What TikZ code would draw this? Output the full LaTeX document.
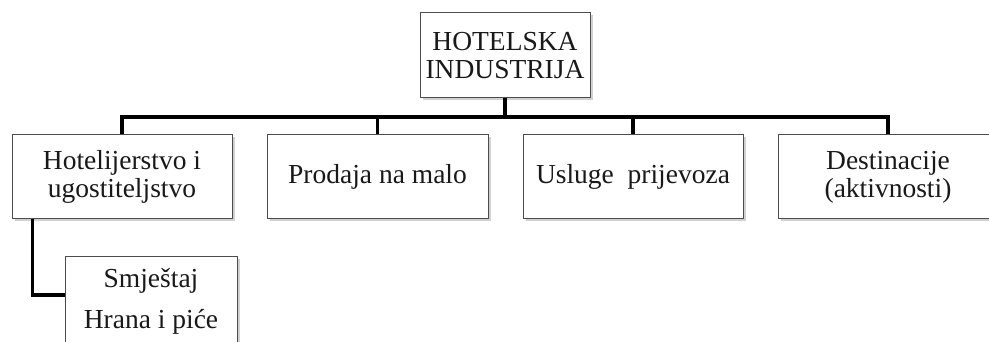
\documentclass[tikz,border=0pt]{standalone}
\usepackage{fontspec}
\setmainfont{Liberation Serif}
\usetikzlibrary{shadows}
\tikzset{
  box/.style={draw=black!70, line width=1pt, fill=white, align=center, inner sep=0pt,
    font=\fontsize{27.5}{28}\selectfont, text=black!90,
    drop shadow={shadow xshift=2.5pt, shadow yshift=-2.5pt, opacity=0.3, fill=black!60}},
  conn/.style={line width=3.6pt, black}
}
\begin{document}
\begin{tikzpicture}[x=1pt,y=-1pt]
\useasboundingbox (0,0) rectangle (989,342);
\node[box, minimum width=170pt, minimum height=85pt] (top) at (505,55.5) {HOTELSKA\\INDUSTRIJA};
\node[box, minimum width=220pt, minimum height=84pt] (h1) at (122,177) {Hotelijerstvo i\\ugostiteljstvo};
\node[box, minimum width=221pt, minimum height=84pt] (h2) at (377.5,177) {Prodaja na malo};
\node[box, minimum width=220pt, minimum height=84pt] (h3) at (633,177) {Usluge\ \ prijevoza};
\node[box, minimum width=220pt, minimum height=84pt] (h4) at (888,177) {Destinacije\\(aktivnosti)};
\node[box, minimum width=172pt, font=\fontsize{27.5}{41}\selectfont, anchor=north] (sub) at (151,256) {\rule{0pt}{31pt}Smještaj\\Hrana i piće\rule[-20pt]{0pt}{0pt}};
\coordinate (bus) at (0,117);
\draw[conn] (top.south) -- (top.south |- bus);
\draw[conn, line cap=rect] (h1.north |- bus) -- (h4.north |- bus);
\draw[conn] (h1.north |- bus) -- (h1.north);
\draw[conn] (h2.north |- bus) -- (h2.north);
\draw[conn] (h3.north |- bus) -- (h3.north);
\draw[conn] (h4.north |- bus) -- (h4.north);
\coordinate (subjoin) at (0,295);
\draw[conn, line join=miter] ([xshift=21pt]h1.south west) |- (sub.west |- subjoin);
\end{tikzpicture}
\end{document}
